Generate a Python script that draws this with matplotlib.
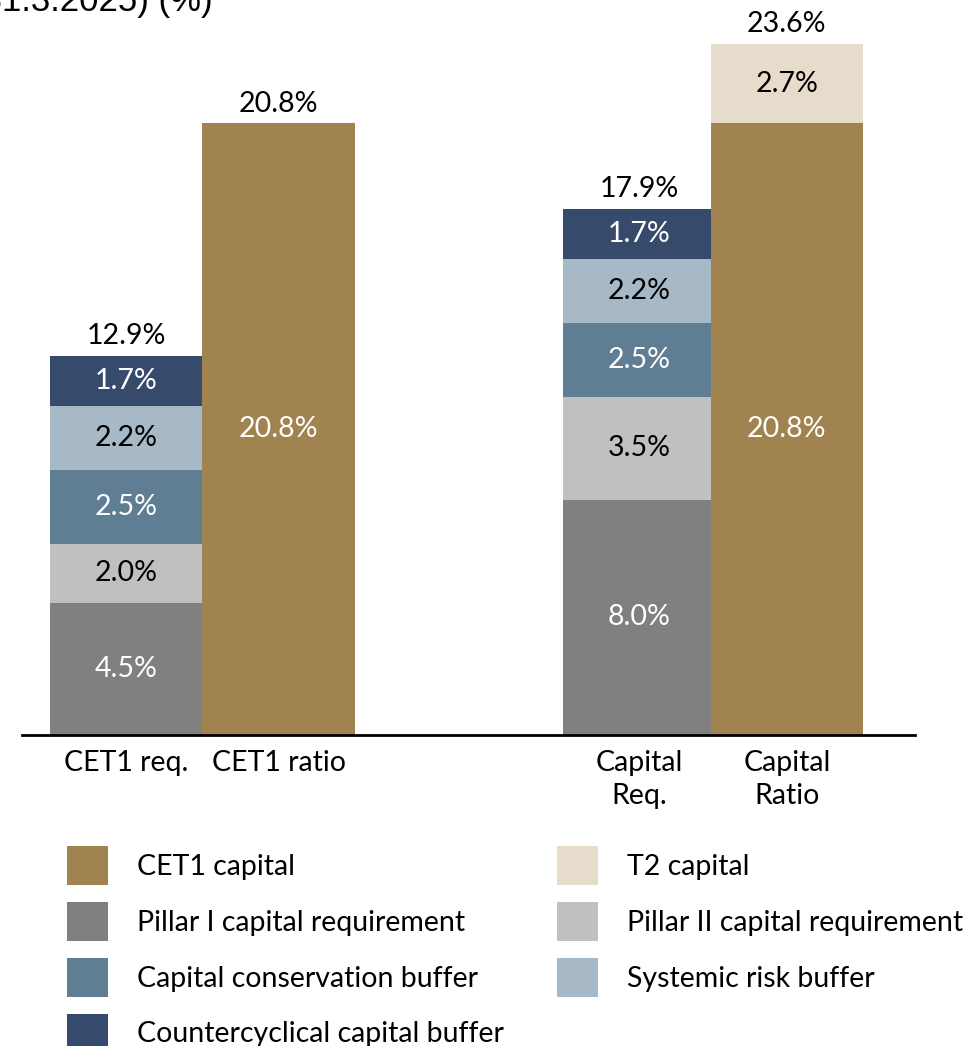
import matplotlib
matplotlib.use("Agg")
import matplotlib.pyplot as plt
from matplotlib.patches import Patch

# capital stack, % of REA
bar_names = ["CET1 req.", "CET1 ratio", "Capital\nReq.", "Capital\nRatio"]
bar_pos = [0.0, 1.0, 3.36, 4.33]

colors = {"CET1 capital": "#A0834F",
          "T2 capital": "#E7DBCC",
          "Pillar I capital requirement": "#808080",
          "Pillar II capital requirement": "#C0C0C0",
          "Capital conservation buffer": "#5F7D93",
          "Systemic risk buffer": "#A7B9C6",
          "Countercyclical capital buffer": "#364B6B"}
text_colors = {"CET1 capital": "white", "T2 capital": "black",
               "Pillar I capital requirement": "white",
               "Pillar II capital requirement": "black",
               "Capital conservation buffer": "white",
               "Systemic risk buffer": "black",
               "Countercyclical capital buffer": "white"}

# stacking order bottom -> top for each bar
cet1_req = [("Pillar I capital requirement", 4.5),
            ("Pillar II capital requirement", 2.0),
            ("Capital conservation buffer", 2.5),
            ("Systemic risk buffer", 2.2),
            ("Countercyclical capital buffer", 1.7)]
cet1_ratio = [("CET1 capital", 20.8)]
cap_req = [("Pillar I capital requirement", 8.0),
           ("Pillar II capital requirement", 3.5),
           ("Capital conservation buffer", 2.5),
           ("Systemic risk buffer", 2.2),
           ("Countercyclical capital buffer", 1.7)]
cap_ratio = [("CET1 capital", 20.8), ("T2 capital", 2.7)]
stacks = [cet1_req, cet1_ratio, cap_req, cap_ratio]
totals = [12.9, 20.8, 17.9, 23.6]

legend_order = ["CET1 capital", "Pillar I capital requirement",
                "Capital conservation buffer", "Countercyclical capital buffer",
                "T2 capital", "Pillar II capital requirement",
                "Systemic risk buffer"]

W, H = 974, 1046
fig = plt.figure(figsize=(W / 100, H / 100), dpi=100)
ax = fig.add_axes([22 / W, 1 - 735 / H, (915 - 22) / W, 735 / H])

lab_font = "Lato"
fs = 20.5

for x, stack, tot in zip(bar_pos, stacks, totals):
    bottom = 0.0
    for name, val in stack:
        ax.bar(x, val, width=1.0, bottom=bottom, color=colors[name],
               edgecolor="none")
        ax.text(x, bottom + val / 2, f"{val:.1f}%", ha="center", va="center",
                color=text_colors[name], fontsize=fs, family=lab_font)
        bottom += val
    ax.annotate(f"{tot:.1f}%", (x, bottom), xytext=(0, 5),
                textcoords="offset points", ha="center", va="bottom",
                fontsize=fs, family=lab_font)

ax.set_xlim(-0.683, 5.17)
ax.set_ylim(0, 25)
ax.axhline(0, color="black", lw=2, clip_on=False)
for s in ax.spines.values():
    s.set_visible(False)
ax.set_yticks([])
ax.set_xticks(bar_pos)
ax.set_xticklabels(bar_names, fontsize=fs, family=lab_font, linespacing=1.3)
ax.tick_params(axis="x", length=0, pad=11)

# heading runs off the top-left corner
fig.text(213 / W, 1 - 11 / H, "(31.3.2025) (%)", ha="right", va="baseline",
         fontsize=25, family="Liberation Sans")

handles = [Patch(facecolor=colors[n], edgecolor="none") for n in legend_order]
fpx = fs * 100 / 72
fig.legend(handles, legend_order, ncol=2, loc="upper left",
           bbox_to_anchor=(67 / W, 1 - 846 / H), frameon=False,
           prop={"family": lab_font, "size": fs},
           handlelength=41 / fpx, handleheight=1.75,
           labelspacing=16.5 / fpx, handletextpad=29 / fpx,
           columnspacing=1.85, borderpad=0, borderaxespad=0)

fig.savefig("out.png", dpi=100)
